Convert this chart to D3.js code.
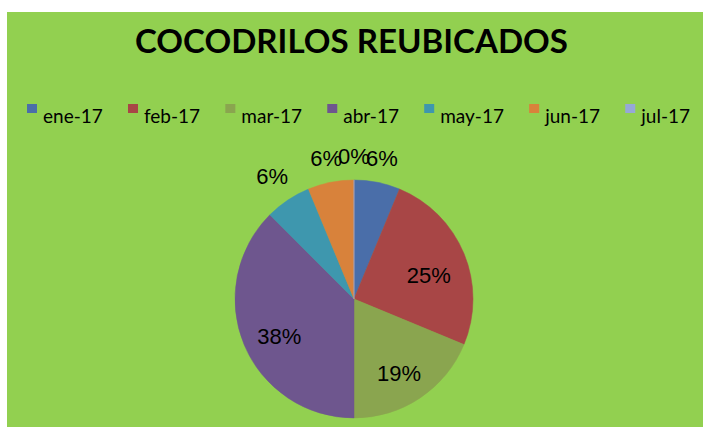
<!DOCTYPE html>
<html>
<head>
    <meta charset="utf-8">
    <title>Cocodrilos reubicados</title>
    <script src="https://cdnjs.cloudflare.com/ajax/libs/d3/7.8.5/d3.min.js"></script>
    <style>
        body{ margin: 0; background: #fff; }
        svg{ display: block; }
    </style>
</head>
<body>
<script>
    // chart data
    const categories = ['ene-17', 'feb-17', 'mar-17', 'abr-17', 'may-17', 'jun-17', 'jul-17'];
    const values = [1, 4, 3, 6, 1, 1, 0];
    const colors = ['#4a6ea9', '#a84646', '#8aa54f', '#6e568e', '#3e97ae', '#d8823b', '#96a8d8'];
    const title = 'COCODRILOS REUBICADOS';

    const W = 703, H = 427;
    const svg = d3.select('body').append('svg')
        .attr('width', W)
        .attr('height', H);

    // green panel
    svg.append('rect')
        .attr('x', 7).attr('y', 12)
        .attr('width', W - 7).attr('height', H - 12)
        .attr('fill', '#92d050');

    // title
    svg.append('text')
        .attr('x', 135).attr('y', 53)
        .attr('textLength', 433)
        .attr('lengthAdjust', 'spacingAndGlyphs')
        .style('font-family', 'Lato, "Open Sans", sans-serif')
        .style('font-weight', 'bold')
        .style('font-size', '33px')
        .attr('fill', '#000')
        .text(title);

    // legend: measure then spread between 27 and 690
    const legend = svg.append('g');
    const items = legend.selectAll('g').data(categories).enter().append('g');
    items.append('rect')
        .attr('width', 10).attr('height', 9)
        .attr('y', 104)
        .attr('fill', (d, i) => colors[i]);
    const labels = items.append('text')
        .attr('y', 123)
        .style('font-family', 'Lato, "Open Sans", sans-serif')
        .style('font-size', '19px')
        .attr('fill', '#000')
        .text(d => d);
    const widths = labels.nodes().map(n => n.getComputedTextLength());
    const itemW = widths.map(w => 16 + w);
    const gap = (690 - 27 - d3.sum(itemW)) / (categories.length - 1);
    let xpos = 27;
    const starts = itemW.map(w => { const s = xpos; xpos += w + gap; return s; });
    items.attr('transform', (d, i) => `translate(${starts[i]},0)`);
    labels.attr('x', 16);

    // pie
    const cx = 354, cy = 299, r = 119;
    const total = d3.sum(values);
    const fmt = d3.format('.0%');
    const pie = d3.pie().sort(null).value(d => d);
    const arcs = pie(values);
    const arc = d3.arc().innerRadius(0).outerRadius(r);
    const inner = d3.arc().innerRadius(r * 0.68).outerRadius(r * 0.68);

    const g = svg.append('g').attr('transform', `translate(${cx},${cy})`);
    g.selectAll('path').data(arcs).enter()
        .append('path')
        .attr('d', arc)
        .attr('fill', (d, i) => colors[i])
        .attr('stroke', (d, i) => colors[i])
        .attr('stroke-width', 0.5);

    // percentage labels: big slices inside, small ones outside
    g.selectAll('text.pct').data(arcs).enter()
        .append('text')
        .attr('class', 'pct')
        .attr('text-anchor', 'middle')
        .attr('dominant-baseline', 'central')
        .style('font-family', '"Liberation Sans", Arial, sans-serif')
        .style('font-size', '22px')
        .attr('fill', '#000')
        .attr('transform', d => {
            const a = (d.startAngle + d.endAngle) / 2;
            if (d.value / total > 0.1) {
                const c = inner.centroid(d);
                return `translate(${c[0]},${c[1] + 7})`;
            }
            const s = Math.sin(a), co = Math.cos(a);
            let dist = r + 13 + Math.abs(s) * 16 + Math.abs(co) * 8;
            if (d.value === 0) dist += 3; // empty slice label sits a bit higher
            return `translate(${s * dist},${-co * dist})`;
        })
        .text(d => fmt(d.value / total));
</script>
</body>
</html>
